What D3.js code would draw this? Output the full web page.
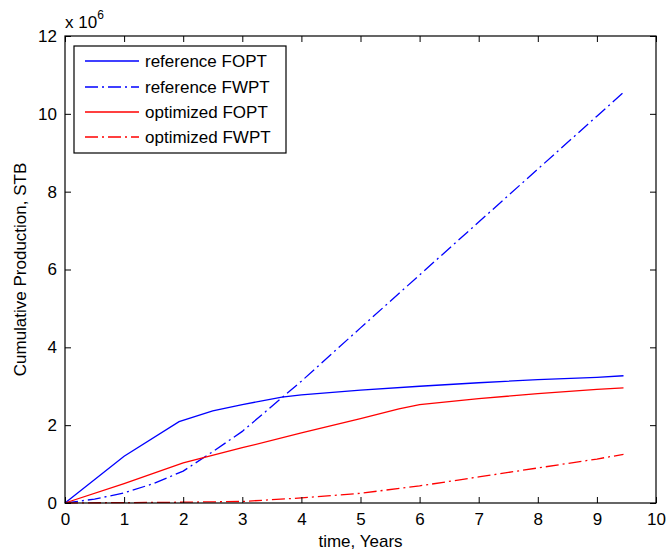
<!DOCTYPE html>
<html>
<head>
<meta charset="utf-8">
<script src="https://cdn.jsdelivr.net/npm/d3@7"></script>
<style>
  html, body { margin: 0; padding: 0; background: #fff; }
  svg { display: block; font-family: "Liberation Sans", Arial, sans-serif; }
</style>
</head>
<body>
<svg id="chart" width="667" height="556"></svg>
<script>
// ---- data (values in units of 1e6 STB) ----
const refFOPT_t = [0, 1, 1.93, 2.5, 3, 3.67, 4, 5, 6, 7, 8, 9, 9.45];
const refFOPT_v = [0, 1.2, 2.09, 2.37, 2.53, 2.72, 2.78, 2.9, 3.0, 3.09, 3.17, 3.23, 3.27];

const refFWPT_t = [0, 0.5, 1, 1.5, 2, 2.5, 3, 4, 5, 6, 7, 8, 9, 9.45];
const refFWPT_v = [0, 0.1, 0.26, 0.5, 0.82, 1.32, 1.84, 3.13, 4.5, 5.86, 7.22, 8.58, 9.94, 10.55];

const optFOPT_t = [0, 1, 2, 3, 4, 5, 5.65, 6, 7, 8, 9, 9.45];
const optFOPT_v = [0, 0.5, 1.03, 1.42, 1.8, 2.17, 2.42, 2.53, 2.68, 2.81, 2.92, 2.96];

const optFWPT_t = [0, 1, 2, 3, 4, 5, 6, 7, 8, 9, 9.45];
const optFWPT_v = [0, 0.01, 0.02, 0.04, 0.13, 0.25, 0.44, 0.67, 0.9, 1.13, 1.25];

const seriesNames = ["reference FOPT", "reference FWPT", "optimized FOPT", "optimized FWPT"];
const seriesColors = ["#0000ff", "#0000ff", "#ff0000", "#ff0000"];
const seriesDashed = [false, true, false, true];

const xTicks = [0, 1, 2, 3, 4, 5, 6, 7, 8, 9, 10];
const yTicks = [0, 2, 4, 6, 8, 10, 12];

// ---- layout ----
const L = 65, R = 656, T = 36, B = 503;
const svg = d3.select("#chart");
const x = d3.scaleLinear().domain([0, 10]).range([L, R]);
const y = d3.scaleLinear().domain([0, 12]).range([B, T]);
const dash = "13,4,2,4";
const fontSize = 17;

const series = [
  d3.zip(refFOPT_t, refFOPT_v),
  d3.zip(refFWPT_t, refFWPT_v),
  d3.zip(optFOPT_t, optFOPT_v),
  d3.zip(optFWPT_t, optFWPT_v)
];

const line = d3.line().x(d => x(d[0])).y(d => y(d[1]));

// lines
series.forEach((s, i) => {
  svg.append("path")
    .attr("d", line(s))
    .attr("fill", "none")
    .attr("stroke", seriesColors[i])
    .attr("stroke-width", 1.3)
    .attr("stroke-dasharray", seriesDashed[i] ? dash : null);
});

// axes (ticks inward, all four sides)
const tickLen = 6;
const axStyle = g => {
  g.select(".domain").remove();
  g.selectAll(".tick line").attr("stroke", "#000").attr("stroke-width", 1);
  g.selectAll(".tick text").attr("fill", "#000").style("font-size", fontSize + "px")
    .style("font-family", "'Liberation Sans', Arial, sans-serif");
};

svg.append("g").attr("transform", `translate(0,${B})`)
  .call(d3.axisBottom(x).tickValues(xTicks).tickFormat(d3.format("d"))
    .tickSizeInner(-tickLen).tickSizeOuter(0).tickPadding(10))
  .call(axStyle);
svg.append("g").attr("transform", `translate(0,${T})`)
  .call(d3.axisTop(x).tickValues(xTicks).tickFormat("")
    .tickSizeInner(-tickLen).tickSizeOuter(0))
  .call(axStyle);
svg.append("g").attr("transform", `translate(${L},0)`)
  .call(d3.axisLeft(y).tickValues(yTicks).tickFormat(d3.format("d"))
    .tickSizeInner(-tickLen).tickSizeOuter(0).tickPadding(8))
  .call(axStyle);
svg.append("g").attr("transform", `translate(${R},0)`)
  .call(d3.axisRight(y).tickValues(yTicks).tickFormat("")
    .tickSizeInner(-tickLen).tickSizeOuter(0))
  .call(axStyle);

// frame
svg.append("rect")
  .attr("x", L).attr("y", T).attr("width", R - L).attr("height", B - T)
  .attr("fill", "none").attr("stroke", "#000").attr("stroke-width", 1.2);

// exponent label
const ex = svg.append("text").attr("x", L).attr("y", 28)
  .style("font-size", "17px").attr("fill", "#000");
ex.append("tspan").text("x 10");
ex.append("tspan").attr("dy", -9).style("font-size", "12px").text("6");

// axis labels
svg.append("text")
  .attr("x", (L + R) / 2).attr("y", 547)
  .attr("text-anchor", "middle")
  .style("font-size", fontSize + "px").attr("fill", "#000")
  .text("time, Years");
svg.append("text")
  .attr("transform", `translate(26,${(T + B) / 2}) rotate(-90)`)
  .attr("text-anchor", "middle")
  .style("font-size", fontSize + "px").attr("fill", "#000")
  .text("Cumulative Production, STB");

// legend
const lg = svg.append("g");
lg.append("rect").attr("x", 74).attr("y", 46).attr("width", 212).attr("height", 107)
  .attr("fill", "#fff").attr("stroke", "#000").attr("stroke-width", 1.2);
const rowY = [61, 87, 112, 137];
seriesNames.forEach((name, i) => {
  lg.append("line")
    .attr("x1", 85).attr("x2", 139).attr("y1", rowY[i]).attr("y2", rowY[i])
    .attr("stroke", seriesColors[i]).attr("stroke-width", 1.3)
    .attr("stroke-dasharray", seriesDashed[i] ? dash : null);
  lg.append("text")
    .attr("x", 145).attr("y", rowY[i] + 6)
    .style("font-size", fontSize + "px").attr("fill", "#000")
    .text(name);
});
</script>
</body>
</html>
